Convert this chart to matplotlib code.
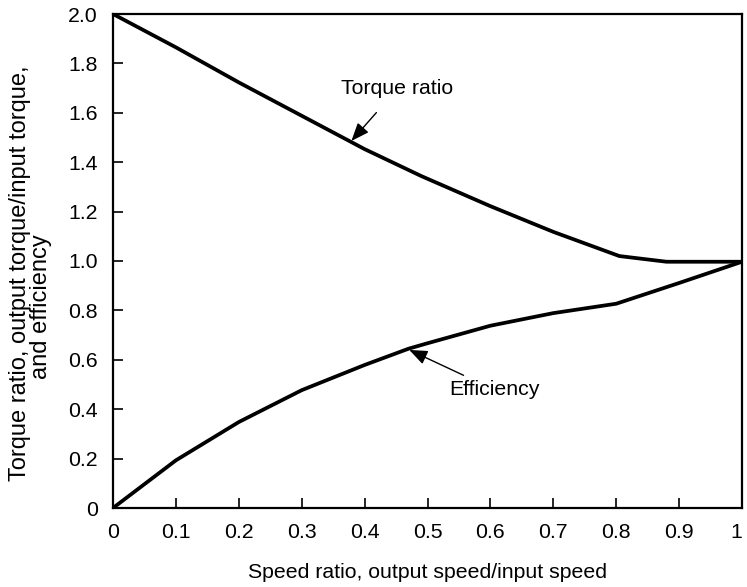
import matplotlib
matplotlib.use("Agg")
import matplotlib.pyplot as plt
import numpy as np

plt.rcParams["font.family"] = ["Liberation Sans", "DejaVu Sans"]

# values
torque_x = [0.0, 0.1, 0.2, 0.3, 0.4, 0.49, 0.6, 0.7, 0.805, 0.88, 1.0]
torque_ratio = [2.0, 1.865, 1.723, 1.588, 1.453, 1.344, 1.222, 1.118, 1.020, 0.997, 0.997]
eff_x = [0.0, 0.1, 0.2, 0.3, 0.4, 0.47, 0.5, 0.6, 0.7, 0.8, 0.9, 1.0]
efficiency = [0.0, 0.193, 0.348, 0.477, 0.579, 0.645, 0.667, 0.738, 0.789, 0.827, 0.911, 0.997]

FS = 15.3
W, H = 747, 587

fig = plt.figure(figsize=(W / 100, H / 100), dpi=100)
ax = fig.add_axes([113/W, 1 - 508/H, 629/W, 494/H])

ax.plot(torque_x, torque_ratio, color="black", lw=2.7, solid_joinstyle="round")
ax.plot(eff_x, efficiency, color="black", lw=2.7, solid_joinstyle="round")

arrow = dict(arrowstyle="-|>,head_length=0.55,head_width=0.22", color="black",
             lw=1.0, mutation_scale=20, shrinkB=0)
ax.annotate("Torque ratio", xy=(0.379, 1.486), xytext=(0.452, 1.697),
            ha="center", va="center", fontsize=FS,
            arrowprops=dict(arrow, shrinkA=11))
ax.annotate("Efficiency", xy=(0.471, 0.640), xytext=(0.607, 0.478),
            ha="center", va="center", fontsize=FS,
            arrowprops=dict(arrow, shrinkA=4))

ax.set_xlim(0, 1)
ax.set_ylim(0, 2)
xt = np.arange(0, 1.01, 0.1)
ax.set_xticks(xt)
ax.set_xticklabels(["0"] + [f"{v:.1f}" for v in xt[1:-1]] + ["1"])
yt = np.arange(0, 2.01, 0.2)
ax.set_yticks(yt)
ax.set_yticklabels(["0"] + [f"{v:.1f}" for v in yt[1:]])
ax.tick_params(direction="in", length=7, width=1.2, labelsize=FS, pad=11)
# keep the last x label ("1") inside the figure
ax.get_xticklabels()[-1].set_ha("right")
for s in ax.spines.values():
    s.set_linewidth(1.6)

ax.set_xlabel("Speed ratio, output speed/input speed", fontsize=FS)
ax.xaxis.set_label_coords(0.5, (508 - 572) / 494)
ax.xaxis.label.set_va("center")

# y label: two lines, the second one sits a bit lower than centred in the reference
fig.text(20/W, 1 - 273/H, "Torque ratio, output torque/input torque,",
         rotation=90, ha="center", va="center", fontsize=17)
fig.text(41/W, 1 - 307/H, "and efficiency",
         rotation=90, ha="center", va="center", fontsize=17)

fig.savefig("out.png", dpi=100)
